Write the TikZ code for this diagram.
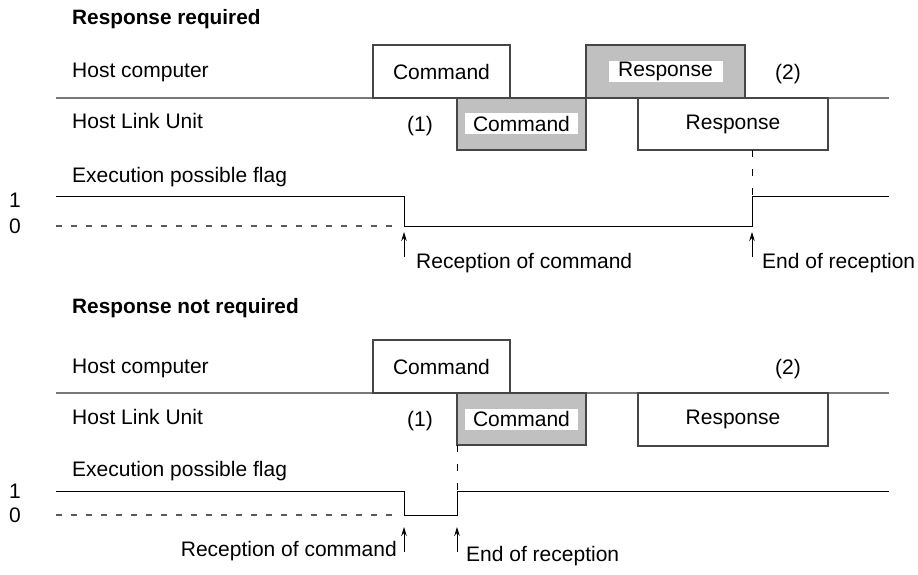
\documentclass[tikz,border=0pt]{standalone}
\usepackage{fontspec}
\setmainfont{Liberation Sans}
\usetikzlibrary{arrows.meta}
\definecolor{boxgray}{RGB}{192,192,192}
\definecolor{edgegray}{RGB}{70,70,70}
\definecolor{sepgray}{RGB}{120,120,120}
\definecolor{dashgray}{RGB}{90,90,90}
\tikzset{
  txt/.style={inner sep=0pt,font=\fontsize{21}{25}\selectfont},
  ttl/.style={inner sep=0pt,font=\fontsize{20.8}{25}\selectfont\bfseries},
  whitebox/.style={draw=edgegray,line width=1.1pt,fill=white,inner sep=0pt},
  graybox/.style={draw=edgegray,line width=1.1pt,fill=boxgray,inner sep=0pt},
  lbl/.style={fill=white,inner sep=0pt,font=\fontsize{21}{25}\selectfont},
  sepline/.style={draw=sepgray,line width=1.4pt},
  wave/.style={draw=black,line width=1pt},
  zeroline/.style={draw=dashgray,line width=1.1pt,dash pattern=on 6pt off 9pt},
  vdash/.style={draw=black,line width=1pt,dash pattern=on 7pt off 12pt},
  uparrow/.style={draw=black,line width=1pt,-{Stealth[length=9pt,width=5.5pt]}}
}
\begin{document}
\begin{tikzpicture}[x=1pt,y=-1pt]
\useasboundingbox (0,0) rectangle (918,575);
% ================= Response required =================
\node[ttl,anchor=base west] (t1) at (72,25) {Response required};
\node[txt,anchor=base west] (hc1) at (72,78) {Host computer};
\node[txt,anchor=base west] (hl1) at (72,129) {Host Link Unit};
\node[txt,anchor=base west] (fl1) at (72,182) {Execution possible flag};
\node[txt] (one1) at (15,200) {1};
\node[txt] (zero1) at (15,226) {0};
\coordinate (sepL1) at (56,98);
\coordinate (sepR1) at (889,98);
\draw[sepline] (sepL1) -- (sepR1);
\node[whitebox,minimum width=137pt,minimum height=53pt] (hcmd1) at (441.5,71.5) {};
\node[txt] at (hcmd1.center) {Command};
\node[graybox,minimum width=159pt,minimum height=53pt] (hresp1) at (665.5,71.5) {};
\node[lbl,minimum width=114pt,minimum height=21pt] (hresp1l) at (hresp1.center) {Response};
\node[graybox,minimum width=129pt,minimum height=52pt] (ucmd1) at (521.5,124) {};
\node[lbl,minimum width=113pt,minimum height=21pt] (ucmd1l) at (ucmd1.center) {Command};
\node[whitebox,minimum width=190pt,minimum height=52pt] (uresp1) at (733,124) {};
\node[txt] at (uresp1.center) {Response};
\node[txt] (n11) at (420,126) {(1)};
\node[txt] (n21) at (788,74) {(2)};
% flag
\coordinate (a1) at (56,196);
\coordinate (b1) at (404,196);
\coordinate (c1) at (404,226);
\coordinate (d1) at (752,226);
\coordinate (e1) at (752,196);
\coordinate (f1) at (889,196);
\coordinate (z1) at (56,226);
\coordinate (zz1) at (400,226);
\draw[wave] (a1) -- (b1) -- (c1) -- (d1) -- (e1) -- (f1);
\draw[zeroline] (z1) -- (zz1);
\coordinate (vd1) at (752,150);
\draw[vdash] (vd1) -- (e1);
\coordinate (ar1s) at (404,257);
\coordinate (ar1e) at (404,232);
\coordinate (ar2s) at (752,257);
\coordinate (ar2e) at (752,232);
\draw[uparrow] (ar1s) -- (ar1e);
\draw[uparrow] (ar2s) -- (ar2e);
\node[txt,anchor=base west] (rc1) at (416,268) {Reception of command};
\node[txt,anchor=base west] (er1) at (762,268) {End of reception};
% ================= Response not required =================
\node[ttl,anchor=base west] (t2) at (72,313) {Response not required};
\node[txt,anchor=base west] (hc2) at (72,373) {Host computer};
\node[txt,anchor=base west] (hl2) at (72,424) {Host Link Unit};
\node[txt,anchor=base west] (fl2) at (72,476) {Execution possible flag};
\node[txt] (one2) at (15,491) {1};
\node[txt] (zero2) at (15,515) {0};
\coordinate (sepL2) at (56,393);
\coordinate (sepR2) at (889,393);
\draw[sepline] (sepL2) -- (sepR2);
\node[whitebox,minimum width=137pt,minimum height=53pt] (hcmd2) at (441.5,366.5) {};
\node[txt] at (hcmd2.center) {Command};
\node[graybox,minimum width=129pt,minimum height=52pt] (ucmd2) at (521.5,419) {};
\node[lbl,minimum width=113pt,minimum height=21pt] (ucmd2l) at (ucmd2.center) {Command};
\node[whitebox,minimum width=190pt,minimum height=53pt] (uresp2) at (733,419.5) {};
\node[txt] at (uresp2.center) {Response};
\node[txt] (n12) at (420,421) {(1)};
\node[txt] (n22) at (788,369) {(2)};
% flag
\coordinate (a2) at (56,491);
\coordinate (b2) at (404,491);
\coordinate (c2) at (404,515);
\coordinate (d2) at (457,515);
\coordinate (e2) at (457,491);
\coordinate (f2) at (889,491);
\coordinate (z2) at (56,515);
\coordinate (zz2) at (400,515);
\draw[wave] (a2) -- (b2) -- (c2) -- (d2) -- (e2) -- (f2);
\draw[zeroline] (z2) -- (zz2);
\coordinate (vd2) at (457,445);
\draw[vdash] (vd2) -- (e2);
\coordinate (ar3s) at (404,552);
\coordinate (ar3e) at (404,527);
\coordinate (ar4s) at (457,552);
\coordinate (ar4e) at (457,527);
\draw[uparrow] (ar3s) -- (ar3e);
\draw[uparrow] (ar4s) -- (ar4e);
\node[txt,anchor=base east] (rc2) at (397,556) {Reception of command};
\node[txt,anchor=base west] (er2) at (466,561) {End of reception};
\end{tikzpicture}
\end{document}
